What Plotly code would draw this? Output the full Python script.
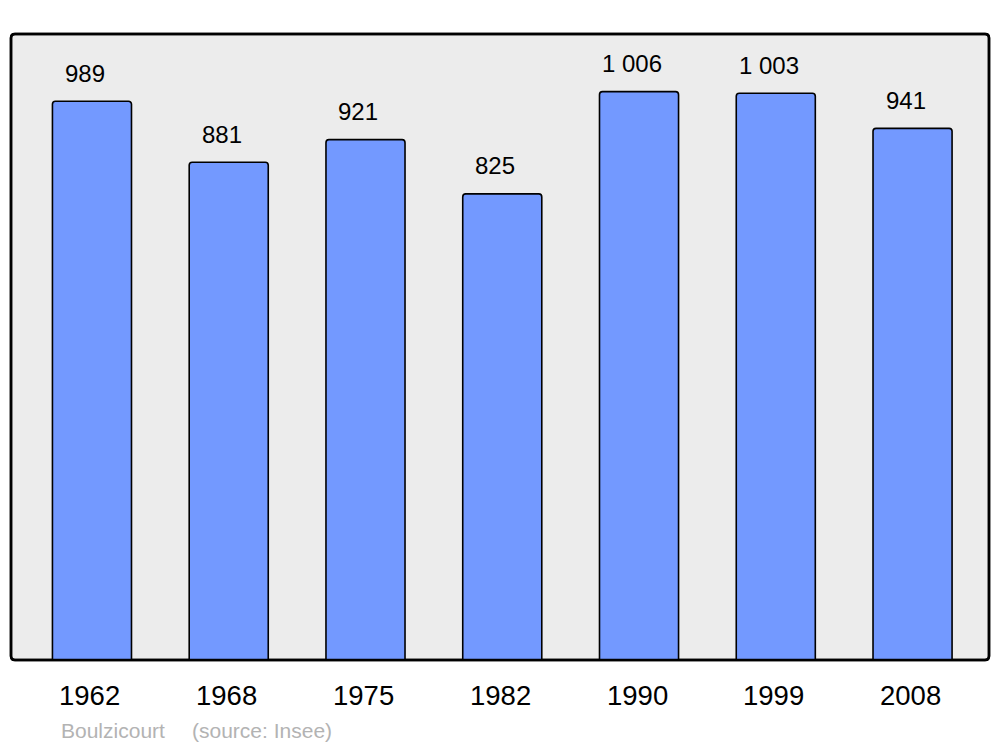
import plotly.graph_objects as go

years = ["1962", "1968", "1975", "1982", "1990", "1999", "2008"]
population = [989, 881, 921, 825, 1006, 1003, 941]
value_labels = ["989", "881", "921", "825", "1 006", "1 003", "941"]
commune = "Boulzicourt"
source = "(source: Insee)"

W, H = 1000, 747
ml, mr, mt, mb = 11, 11, 34, 87
pw, ph = W - ml - mr, H - mt - mb

xs = list(range(len(years)))

fig = go.Figure()
fig.add_trace(go.Bar(
    x=xs, y=population, width=0.578,
    marker=dict(color="#7399ff", line=dict(color="#000000", width=1.6), cornerradius=3),
    hoverinfo="skip",
))

for i, (v, t) in enumerate(zip(population, value_labels)):
    fig.add_annotation(x=i, y=v, text=t, showarrow=False, xref="x", yref="y",
                       xanchor="center", yanchor="middle", xshift=-7, yshift=28,
                       font=dict(family="Liberation Sans, Arial", size=24, color="#000000"))
for i, yr in enumerate(years):
    fig.add_annotation(x=i, y=0, text=yr, showarrow=False, xref="x", yref="y",
                       xanchor="center", yanchor="middle", xshift=-2, yshift=-35,
                       font=dict(family="Liberation Sans, Arial", size=27.5, color="#000000"))

fy = (H - mb - 730) / ph
fig.add_annotation(x=(59 - ml) / pw, y=fy, xref="paper", yref="paper", text=commune,
                   showarrow=False, xanchor="left", yanchor="middle",
                   font=dict(family="Liberation Sans, Arial", size=21, color="#b3b3b3"))
fig.add_annotation(x=(190 - ml) / pw, y=fy, xref="paper", yref="paper", text=source,
                   showarrow=False, xanchor="left", yanchor="middle",
                   font=dict(family="Liberation Sans, Arial", size=21, color="#b3b3b3"))

# rounded frame in paper coords
r = 4
rx, ry = r / pw, r / ph
path = (f"M {rx},0 L {1-rx},0 Q 1,0 1,{ry} L 1,{1-ry} Q 1,1 {1-rx},1 "
        f"L {rx},1 Q 0,1 0,{1-ry} L 0,{ry} Q 0,0 {rx},0 Z")
fig.add_shape(type="path", path=path, xref="paper", yref="paper",
              fillcolor="#ececec", line=dict(color="#000000", width=2.5), layer="below")
fig.add_shape(type="path", path=path, xref="paper", yref="paper",
              fillcolor="rgba(0,0,0,0)", line=dict(color="#000000", width=2.5), layer="above")

fig.update_layout(
    width=W, height=H,
    margin=dict(l=ml, r=mr, t=mt, b=mb, pad=0),
    paper_bgcolor="#ffffff", plot_bgcolor="rgba(0,0,0,0)",
    showlegend=False,
    xaxis=dict(range=[-0.592, 6.559], showgrid=False, zeroline=False,
               showticklabels=False, showline=False, fixedrange=True),
    yaxis=dict(range=[0, 1108], showgrid=False, zeroline=False,
               showticklabels=False, showline=False, fixedrange=True),
)

fig.write_html("out.html", config={"displayModeBar": False},
               post_script="document.body.style.margin='0';document.body.style.overflow='hidden';")
